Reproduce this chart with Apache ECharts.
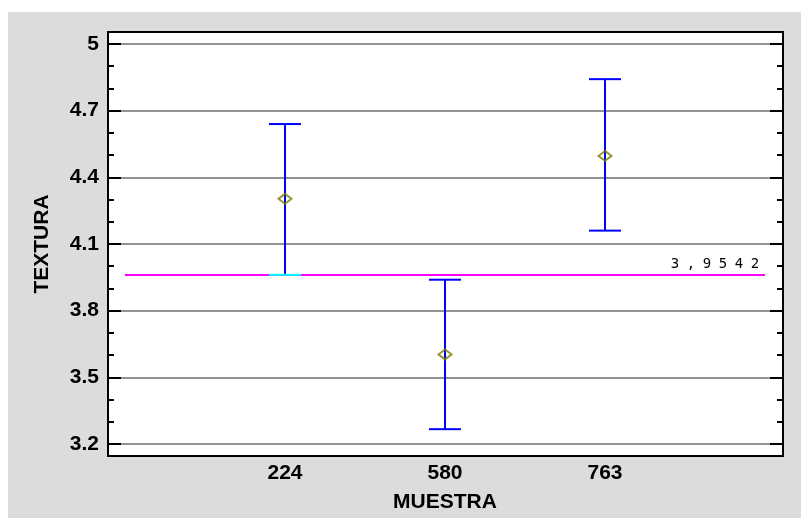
<!DOCTYPE html>
<html><head><meta charset="utf-8">
<script src="https://cdn.jsdelivr.net/npm/echarts@6/dist/echarts.min.js"></script>
<style>html,body{margin:0;padding:0;background:#fff}#c{width:801px;height:518px}</style>
</head><body><div id="c"></div>
<script>
const categories = ['224', '580', '763'];
const means = [4.300, 3.596, 4.494];
const lowerLimits = [3.956, 3.258, 4.156];
const upperLimits = [4.638, 3.934, 4.841];
const grandMean = 3.9542;
const yTicks = [3.2, 3.5, 3.8, 4.1, 4.4, 4.7, 5];

const FONT = 'Liberation Sans, Arial, sans-serif';
const chart = echarts.init(document.getElementById('c'), null, {renderer: 'canvas'});

const barData = categories.map((c, i) => [i + 1, lowerLimits[i], upperLimits[i]]);
const meanData = categories.map((c, i) => [i + 1, means[i]]);

const labelText = String(grandMean).replace('.', ',');
const labelRich = labelText.split('').map(ch => '{c|' + ch + '}').join('');

const option = {
  animation: false,
  backgroundColor: '#ffffff',
  graphic: {
    elements: [
      {type: 'rect', z: -20, shape: {x: 8, y: 12, width: 793, height: 506}, style: {fill: '#dcdcdc'}},
      {type: 'rect', z: -10, shape: {x: 108, y: 32, width: 675, height: 424}, style: {fill: '#ffffff'}},
      {type: 'rect', z: 100, shape: {x: 108, y: 32, width: 675, height: 424}, style: {fill: 'none', stroke: '#000000', lineWidth: 2}}
    ]
  },
  grid: [
    {left: 108, right: 18, top: 44, bottom: 74},
    {left: 125, right: 36, top: 44, bottom: 74}
  ],
  xAxis: [
    {gridIndex: 0, type: 'value', min: 0, max: 1, show: false},
    {
      gridIndex: 1, type: 'value', min: 0, max: categories.length + 1, interval: 1,
      axisLine: {show: false}, axisTick: {show: false}, splitLine: {show: false},
      axisLabel: {
        formatter: v => categories[v - 1] || '',
        fontFamily: FONT, fontSize: 21, fontWeight: 'bold', color: '#000', margin: 21
      },
      name: 'MUESTRA', nameLocation: 'middle', nameGap: 50,
      nameTextStyle: {fontFamily: FONT, fontSize: 21, fontWeight: 'bold', color: '#000'}
    }
  ],
  yAxis: [
    {
      gridIndex: 0, type: 'value', position: 'left',
      min: yTicks[0], max: yTicks[yTicks.length - 1], interval: 0.3,
      axisLine: {show: false},
      axisTick: {show: true, inside: true, length: 13, lineStyle: {color: '#000', width: 2}},
      minorTick: {show: true, splitNumber: 3, length: 6, lineStyle: {color: '#000', width: 2}},
      splitLine: {show: true, lineStyle: {color: '#929292', width: 2}},
      axisLabel: {fontFamily: FONT, fontSize: 21, fontWeight: 'bold', color: '#000', margin: 9},
      name: 'TEXTURA', nameLocation: 'middle', nameGap: 55, nameRotate: 90,
      nameTextStyle: {fontFamily: FONT, fontSize: 21, fontWeight: 'bold', color: '#000'}
    },
    {
      gridIndex: 0, type: 'value', position: 'right',
      min: yTicks[0], max: yTicks[yTicks.length - 1], interval: 0.3,
      axisLine: {show: false},
      axisTick: {show: true, inside: true, length: 13, lineStyle: {color: '#000', width: 2}},
      minorTick: {show: true, splitNumber: 3, length: 6, lineStyle: {color: '#000', width: 2}},
      splitLine: {show: false},
      axisLabel: {show: false}
    },
    {
      gridIndex: 1, type: 'value',
      min: yTicks[0], max: yTicks[yTicks.length - 1], show: false
    }
  ],
  series: [
    {
      type: 'line', xAxisIndex: 1, yAxisIndex: 2, data: [], z: 2,
      markLine: {
        silent: true, symbol: ['none', 'none'], z: 3,
        lineStyle: {color: '#ff00ff', width: 2, type: 'solid'},
        label: {
          show: true, position: 'insideEndTop', distance: [2, 4],
          formatter: labelRich,
          rich: {c: {width: 16, align: 'center', fontFamily: 'DejaVu Sans Mono, monospace', fontSize: 14, color: '#000'}}
        },
        data: [[{coord: [0, grandMean]}, {coord: [categories.length + 1, grandMean]}]]
      }
    },
    {
      type: 'custom', xAxisIndex: 1, yAxisIndex: 2, z: 8,
      data: barData,
      renderItem: function (params, api) {
        const x = api.value(0), lo = api.value(1), hi = api.value(2);
        const pLo = api.coord([x, lo]);
        const pHi = api.coord([x, hi]);
        const half = 16;
        const loColor = Math.abs(lo - grandMean) < 0.01 ? '#00ffff' : '#0000ff';
        return {
          type: 'group', children: [
            {type: 'line', shape: {x1: pLo[0], y1: pLo[1], x2: pHi[0], y2: pHi[1]}, style: {stroke: '#0000ff', lineWidth: 2}},
            {type: 'line', shape: {x1: pHi[0] - half, y1: pHi[1], x2: pHi[0] + half, y2: pHi[1]}, style: {stroke: '#0000ff', lineWidth: 2}},
            {type: 'line', shape: {x1: pLo[0] - half, y1: pLo[1], x2: pLo[0] + half, y2: pLo[1]}, style: {stroke: loColor, lineWidth: 2}}
          ]
        };
      }
    },
    {
      type: 'scatter', xAxisIndex: 1, yAxisIndex: 2, z: 9,
      data: meanData,
      symbol: 'diamond', symbolSize: [13, 10],
      itemStyle: {color: 'rgba(0,0,0,0)', borderColor: '#7a7a00', borderWidth: 2}
    }
  ]
};
chart.setOption(option);
</script>
</body></html>
